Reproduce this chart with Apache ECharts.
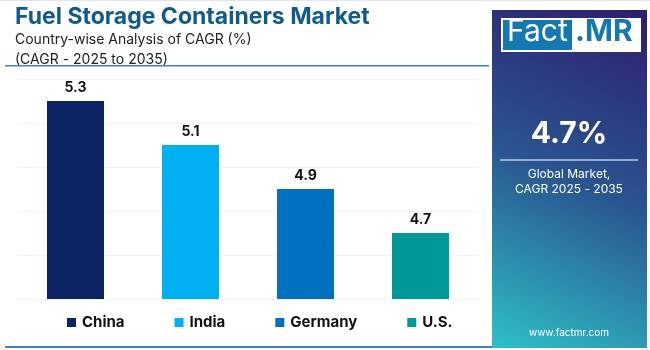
<!DOCTYPE html>
<html>
<head>
<meta charset="utf-8">
<script src="https://cdn.jsdelivr.net/npm/echarts@6/dist/echarts.min.js"></script>
<style>
  html, body { margin: 0; padding: 0; background: #fff; }
  #main { width: 650px; height: 350px; }
</style>
</head>
<body>
<div id="main"></div>
<script>
var countries = ["China", "India", "Germany", "U.S."];
var cagrValues = [5.3, 5.1, 4.9, 4.7];
var barColors = ["#0b2263", "#00b0f0", "#0070c0", "#00999a"];
var globalCagr = "4.7%";

var myChart = echarts.init(document.getElementById("main"));
var font = "Inter, 'Open Sans', sans-serif";

// one series per country so the legend shows each of them
var series = countries.map(function (name, i) {
  var data = countries.map(function (c, j) { return j === i ? cagrValues[i] : "-"; });
  return {
    name: name,
    type: "bar",
    stack: "all",
    barWidth: 57,
    data: data,
    itemStyle: { color: barColors[i] },
    label: {
      show: true,
      position: "top",
      distance: 6,
      color: "#111",
      fontSize: 14,
      fontWeight: "bold",
      fontFamily: font
    }
  };
});

var option = {
  animation: false,
  title: [
    {
      text: "Fuel Storage Containers Market",
      left: 10, top: 1,
      textStyle: { color: "#115a8e", fontSize: 23, fontWeight: "bold", fontFamily: font }
    },
    {
      text: "Country-wise Analysis of CAGR (%)\n(CAGR - 2025 to 2035)",
      left: 10, top: 25,
      textStyle: { color: "#222", fontSize: 14, fontWeight: "normal", fontFamily: font, lineHeight: 20 }
    }
  ],
  legend: {
    bottom: 15,
    left: 62,
    itemWidth: 9,
    itemHeight: 9,
    itemGap: 50,
    icon: "rect",
    textStyle: { color: "#111", fontSize: 15, fontWeight: "bold", fontFamily: font, padding: [0, 0, 0, 1] },
    data: countries
  },
  grid: { left: 18, right: 172, top: 79, bottom: 51 },
  xAxis: {
    type: "category",
    data: countries,
    axisLine: { lineStyle: { color: "#f0f0f0" } },
    axisTick: { show: false },
    axisLabel: { show: false }
  },
  yAxis: {
    type: "value",
    min: 4.4,
    max: 5.4,
    interval: 0.2,
    axisLabel: { show: false },
    splitLine: { lineStyle: { color: "#f2f2f2" } }
  },
  series: series,
  graphic: [
    { type: "rect", shape: { x: 0, y: 0, width: 650, height: 1 }, style: { fill: "#e6e6e6" } },
    { type: "rect", shape: { x: 5, y: 65, width: 484, height: 1.5 }, style: { fill: "#3a86c0" } },
    { type: "rect", shape: { x: 5, y: 346, width: 487, height: 2 }, style: { fill: "#3a86c0" } },
    {
      type: "rect",
      shape: { x: 492, y: 10, width: 155, height: 338 },
      style: {
        fill: new echarts.graphic.LinearGradient(1, 0, 0, 1, [
          { offset: 0, color: "#2e1d6e" },
          { offset: 0.5, color: "#2a5590" },
          { offset: 1, color: "#2ec0c6" }
        ])
      }
    },
    { type: "rect", shape: { x: 501, y: 18, width: 140, height: 34 }, style: { fill: "#ffffff" } },
    { type: "rect", shape: { x: 503, y: 20, width: 69, height: 30 }, style: { fill: "#1479b0" } },
    {
      type: "text", left: 507, top: 17,
      style: { text: "Fact", fill: "#ffffff", fontSize: 30, fontFamily: font, fontWeight: "normal" }
    },
    {
      type: "text", left: 575, top: 17,
      style: { text: ".MR", fill: "#1479b0", fontSize: 30, fontFamily: font, fontWeight: "bold" }
    },
    {
      type: "text", x: 569, y: 134,
      style: { text: globalCagr, fill: "#ffffff", fontSize: 30, fontWeight: "bold", fontFamily: font, align: "center", verticalAlign: "middle" }
    },
    { type: "rect", shape: { x: 500, y: 159, width: 138, height: 2 }, style: { fill: "rgba(200,210,235,0.7)" } },
    {
      type: "text", x: 569, y: 182,
      style: { text: "Global Market,\nCAGR 2025 - 2035", fill: "#ffffff", fontSize: 12, lineHeight: 15, fontFamily: font, align: "center", verticalAlign: "middle" }
    },
    {
      type: "text", x: 569, y: 333,
      style: { text: "www.factmr.com", fill: "#ffffff", fontSize: 10, fontFamily: font, align: "center", verticalAlign: "middle" }
    }
  ]
};

myChart.setOption(option);
window.addEventListener("resize", function () {
  myChart.resize();
});
</script>
</body>
</html>
